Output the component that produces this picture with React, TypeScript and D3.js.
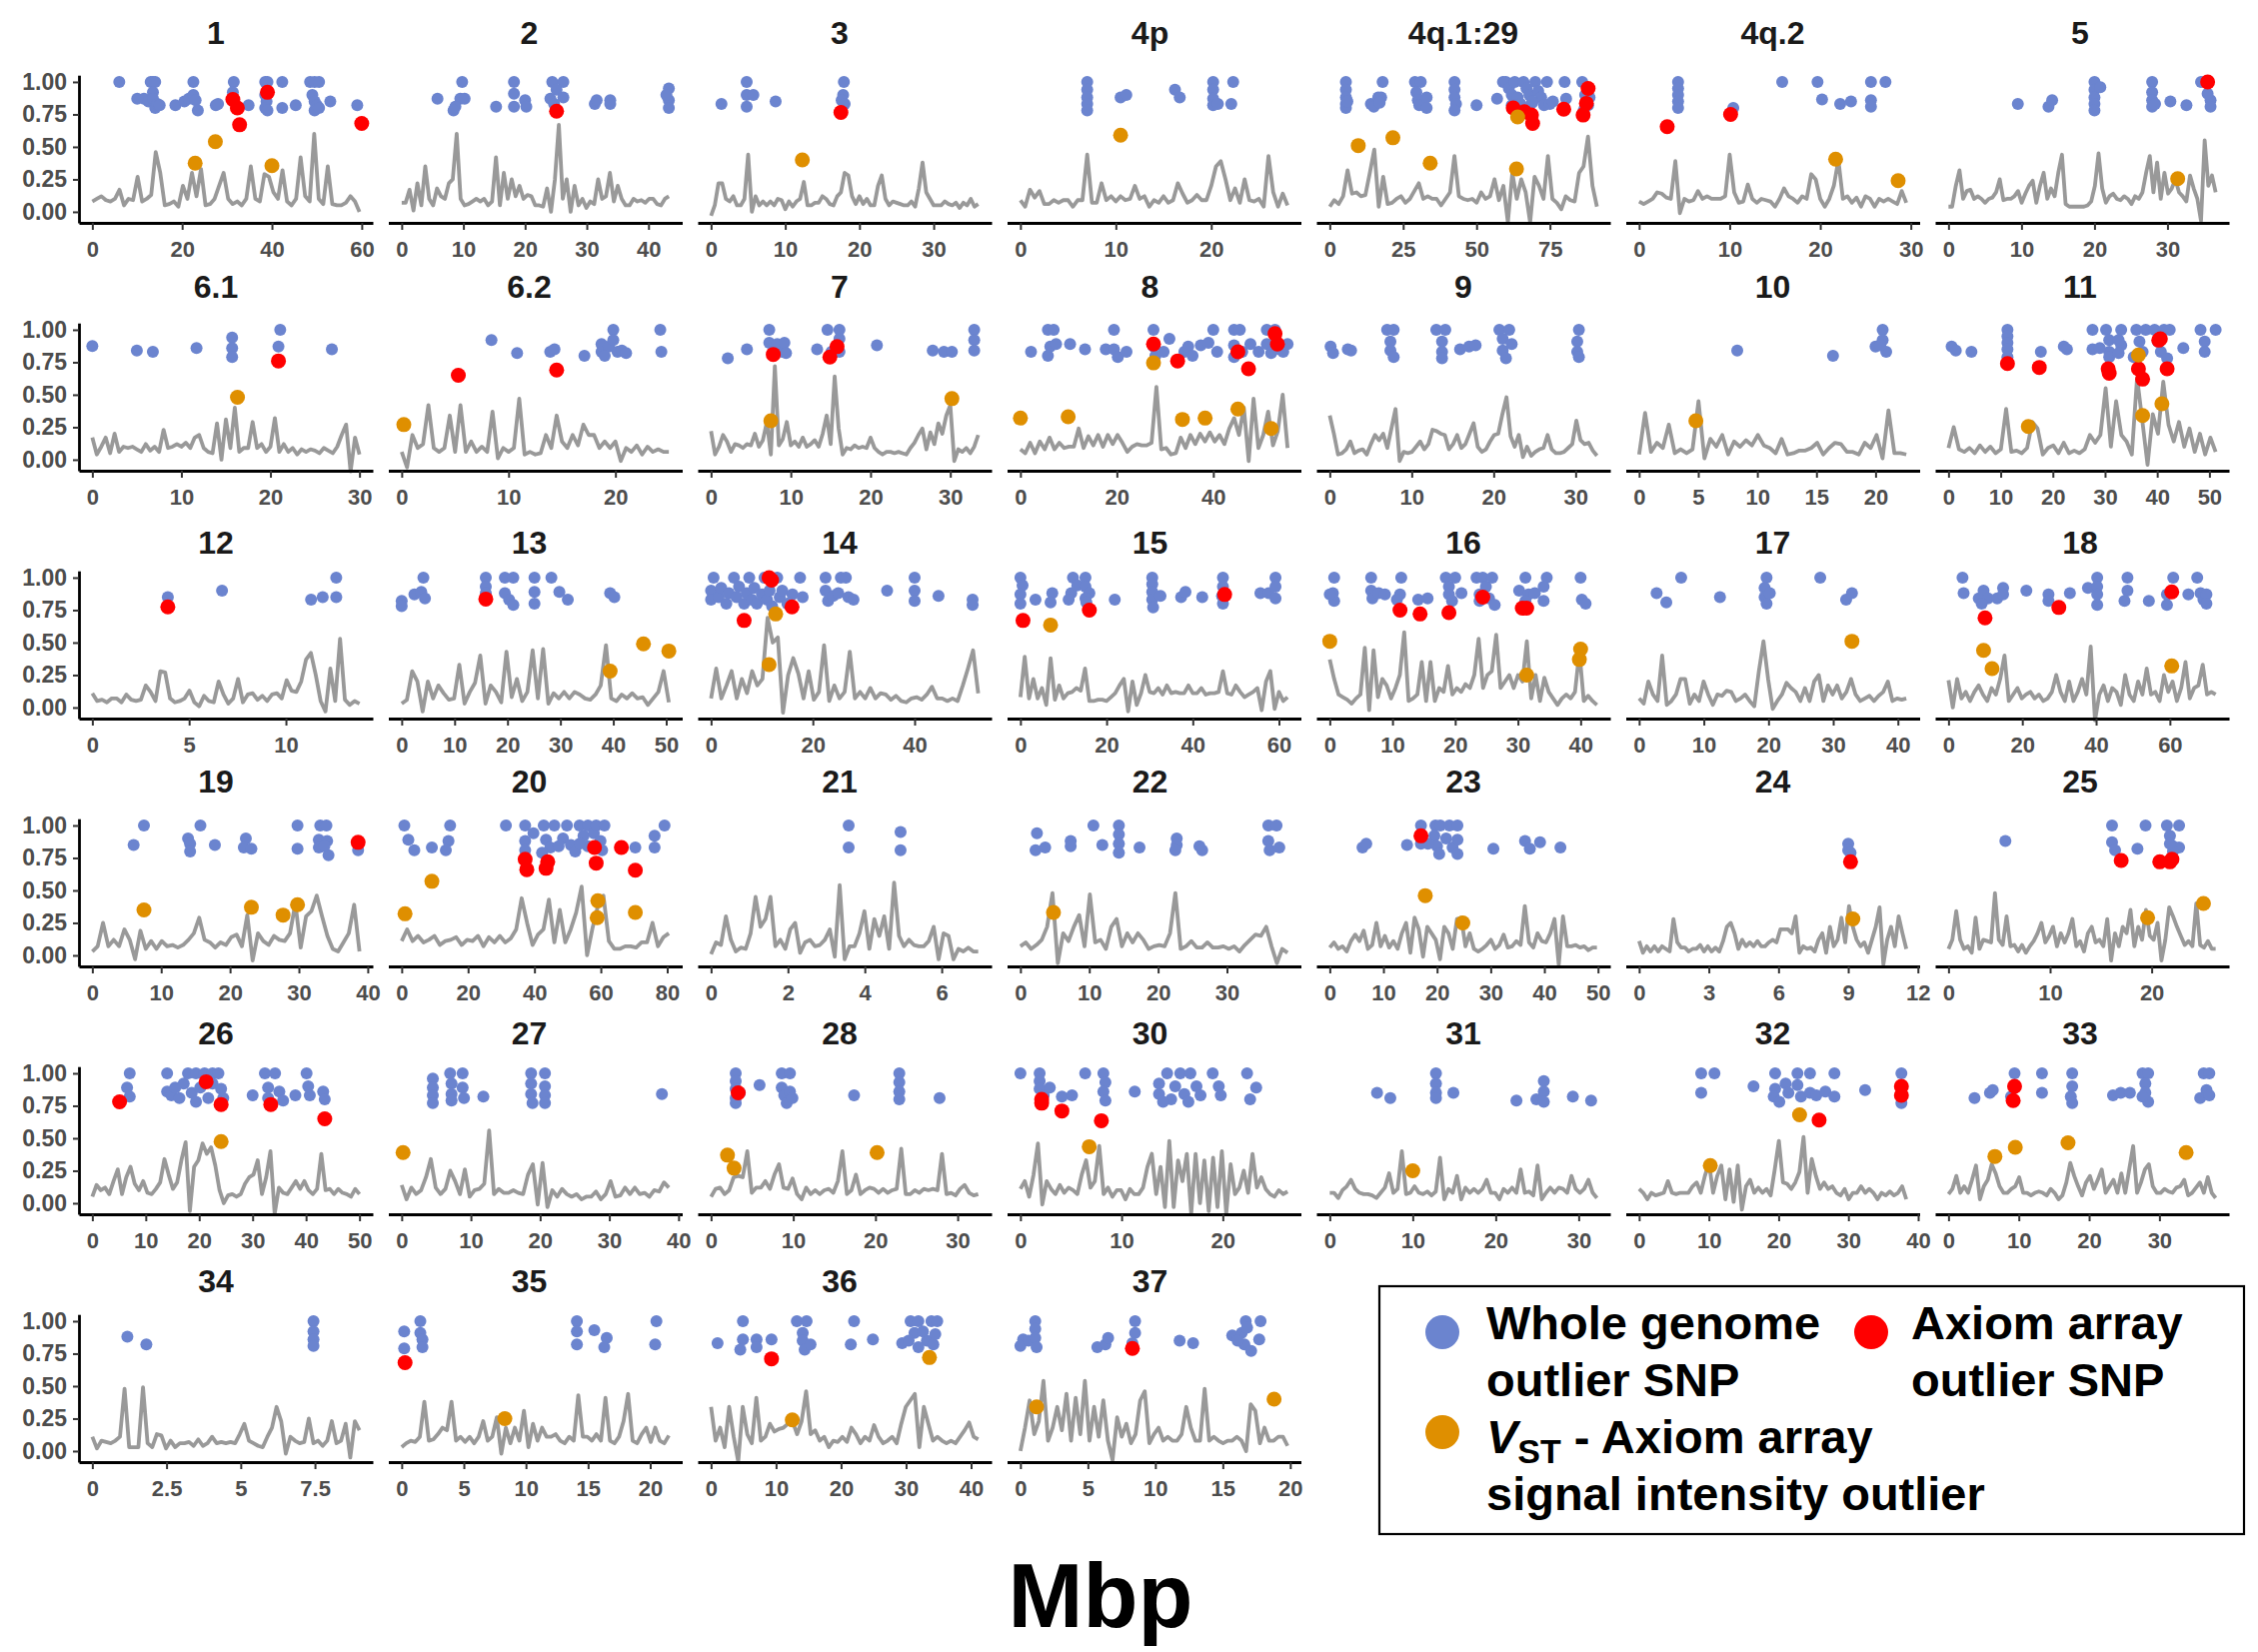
import React, { useRef, useEffect } from 'react';
import * as d3 from 'd3';

// facet order (7 per row)
const chromNames = ['1', '2', '3', '4p', '4q.1:29', '4q.2', '5', '6.1', '6.2', '7', '8', '9', '10', '11',
  '12', '13', '14', '15', '16', '17', '18', '19', '20', '21', '22', '23', '24', '25',
  '26', '27', '28', '30', '31', '32', '33', '34', '35', '36', '37'];

// chromosome length, Mbp
const chromLengths = [59.5, 43.3, 36, 28, 91, 29.5, 36.6, 30, 25, 33.5, 55.4, 32.6, 22.6, 51.2,
  13.8, 50.5, 52.5, 62, 42.6, 41.3, 72.4, 38.8, 80.5, 6.95, 38.8, 49.8, 11.5, 26.3,
  50, 38.6, 32.5, 26.4, 32.2, 38.3, 38, 9, 21.5, 41.1, 19.8];

const xTickLabels = [
  [0, 20, 40, 60], [0, 10, 20, 30, 40], [0, 10, 20, 30], [0, 10, 20], [0, 25, 50, 75], [0, 10, 20, 30], [0, 10, 20, 30],
  [0, 10, 20, 30], [0, 10, 20], [0, 10, 20, 30], [0, 20, 40], [0, 10, 20, 30], [0, 5, 10, 15, 20], [0, 10, 20, 30, 40, 50],
  [0, 5, 10], [0, 10, 20, 30, 40, 50], [0, 20, 40], [0, 20, 40, 60], [0, 10, 20, 30, 40], [0, 10, 20, 30, 40], [0, 20, 40, 60],
  [0, 10, 20, 30, 40], [0, 20, 40, 60, 80], [0, 2, 4, 6], [0, 10, 20, 30], [0, 10, 20, 30, 40, 50], [0, 3, 6, 9, 12], [0, 10, 20],
  [0, 10, 20, 30, 40, 50], [0, 10, 20, 30, 40], [0, 10, 20, 30], [0, 10, 20], [0, 10, 20, 30], [0, 10, 20, 30, 40], [0, 10, 20, 30],
  [0, 2.5, 5, 7.5], [0, 5, 10, 15, 20], [0, 10, 20, 30, 40], [0, 5, 10, 15, 20],
];

const yTickLabels = [0, 0.25, 0.5, 0.75, 1];

// windowed Fst along each chromosome (windows evenly spread from 0 to the chromosome end)
const fst_1 = [.08, .1, .12, .09, .08, .1, .17, .05, .1, .09, .27, .08, .1, .13, .46, .3, .05, .06, .08, .04, .2, .1, .3, .12, .33, .05, .06, .1, .2, .3, .1, .06, .08, .05, .1, .35, .1, .08, .29, .27, .15, .1, .32, .08, .05, .1, .42, .12, .08, .6, .1, .06, .35, .06, .05, .05, .07, .12, .08, 0];
const fst_2 = [.07, .07, .17, .01, .22, .05, .35, .1, .05, .18, .12, .1, .22, .25, .6, .1, .05, .06, .08, .1, .08, .1, .05, .08, .42, .05, .3, .1, .25, .12, .2, .1, .13, .12, .05, .05, .04, .18, 0, .25, .67, .1, .25, 0, .2, .05, .1, .03, .08, .06, .25, .1, .12, .3, .08, .2, .1, .05, .05, .1, .08, .09, .07, .1, .1, .06, .05, .1, .12];
const fst_3 = [-.03, .05, .22, .22, .1, .08, .12, .05, .05, .1, .44, 0, .12, .05, .08, .05, .08, .05, .1, .09, .02, .08, .04, .08, .1, .23, .05, .05, .07, .07, .12, .1, .06, .05, .12, .15, .3, .28, .12, .06, .12, .06, .1, .05, .05, .2, .28, .1, .05, .08, .07, .06, .05, .05, .08, .04, .18, .38, .15, .1, .05, .05, .05, .08, .06, .05, .07, .03, .07, .05, .1, .04, .06];
const fst_4p = [.09, .04, .17, .11, .16, .06, .06, .09, .07, .09, .09, .04, .09, .09, .44, .07, .07, .22, .09, .12, .08, .12, .09, .1, .2, .1, .12, .04, .09, .07, .12, .07, .09, .22, .14, .07, .09, .13, .09, .09, .2, .35, .39, .25, .09, .18, .07, .25, .09, .08, .1, .04, .43, .15, .04, .14, .05];
const fst_4q1 = [.04, .09, .06, .12, .32, .14, .15, .12, .13, .3, .48, .04, .27, .06, .07, .1, .12, .07, .1, .16, .22, .1, .12, .1, .1, .05, .1, .15, .43, .12, .1, .09, .1, .07, .15, .1, .12, .25, .09, .2, -.08, .3, .1, .25, .15, -.08, .27, .2, .1, .43, .1, .07, .02, .12, .09, .08, .3, .35, .58, .2, .04];
const fst_4q2 = [.08, .06, .08, .1, .15, .14, .11, .1, .39, -.01, .1, .08, .09, .16, .1, .12, .1, .1, .1, .12, .44, .15, .07, .08, .21, .1, .07, .1, .09, .08, .04, .1, .18, .12, .1, .07, .12, .1, .29, .25, .1, .04, .1, .2, .4, .1, .12, .07, .11, .04, .12, .1, .04, .1, .08, .1, .08, .06, .16, .07];
const fst_5 = [.04, .04, .2, .32, .1, .16, .17, .1, .12, .1, .07, .1, .11, .15, .25, .09, .1, .1, .12, .16, .07, .14, .2, .24, .07, .2, .3, .1, .18, .12, .3, .44, .06, .04, .04, .04, .04, .04, .05, .08, .2, .45, .18, .07, .12, .14, .1, .09, .12, .1, .06, .12, .1, .15, .3, .43, .15, .38, .1, .3, .14, .18, .25, .15, .12, .08, .28, .18, .1, -.07, .55, .2, .28, .15];
const fst_6_1 = [.17, .04, .1, .17, .05, .2, .06, .1, .09, .1, .08, .06, .12, .07, .1, .06, .23, .09, .1, .12, .1, .13, .09, .17, .19, .09, .06, .05, .28, 0, .31, .09, .4, .06, .09, .09, .29, .09, .12, .06, .1, .32, .06, .12, .06, .09, .04, .08, .06, .08, .07, .05, .09, .07, .05, .1, .19, .27, -.09, .17, .04];
const fst_6_2 = [.06, -.06, .19, .09, .12, .42, .09, .06, .09, .34, .06, .42, .06, .14, .06, .1, .06, .37, .01, .09, .06, .09, .47, .04, .06, .04, .05, .19, .09, .34, .14, .09, .19, .11, .27, .19, .19, .09, .14, .09, .14, -.01, .09, .06, .11, .04, .1, .06, .08, .06, .06];
const fst_7 = [.22, .04, .1, .19, .14, .06, .12, .11, .09, .12, .11, .2, .1, .15, .29, .04, .72, .11, .16, .29, .11, .14, .1, .17, .1, .12, .15, .1, .2, .34, .12, .64, .24, .04, .09, .08, .11, .09, .1, .09, .17, .09, .06, .04, .06, .06, .05, .06, .05, .04, .09, .13, .19, .24, .08, .21, .12, .28, .2, .34, .42, -.01, .08, .06, .09, .05, .1, .19];
const fst_8 = [.08, .05, .13, .05, .14, .08, .17, .08, .13, .09, .1, .1, .24, .09, .18, .11, .19, .1, .19, .12, .19, .13, .06, .1, .12, .11, .11, .13, .56, .08, .09, .04, .05, .17, .09, .19, .12, .2, .14, .21, .14, .19, .12, .24, .32, .19, .4, -.01, .47, .09, .19, .37, .11, .22, .5, .09];
const fst_9 = [.34, .2, .04, .05, .08, .14, .05, .07, .08, .04, .12, .19, .15, .2, .09, .24, .39, -.01, .06, .05, .06, .1, .14, .08, .12, .23, .22, .2, .19, .08, .12, .19, .09, .12, .2, .28, .1, .06, .08, .14, .19, .2, .35, .48, .18, .1, .19, .02, .1, .03, .06, .08, .09, .19, .08, .05, .05, .06, .09, .12, .3, .15, .12, .13, .07, .03];
const fst_10 = [.04, .36, .06, .13, .09, .27, .05, .08, .05, .08, .45, .01, .16, .1, .19, .04, .14, .1, .15, .11, .19, .11, .09, .05, .16, .04, .05, .07, .07, .09, .13, .04, .09, .13, .12, .06, .06, .04, .13, .09, .19, .01, .38, .05, .05, .04];
const fst_11 = [.09, .25, .08, .06, .09, .05, .11, .06, .1, .05, .08, .39, .06, .07, .05, .09, .29, .24, .04, .09, .11, .05, .13, .05, .07, .05, .08, .19, .13, .19, .55, .1, .45, .19, .14, .04, .63, .3, -.04, .35, .2, .6, .27, .14, .29, .1, .24, .06, .2, .04, .17, .06];
const fst_12 = [.11, .05, .06, .04, .07, .07, .04, .1, .06, .05, .06, .17, .12, .05, .28, .27, .07, .04, .05, .07, .13, .04, .01, .09, .05, .04, .2, .1, .03, .07, .22, .04, .1, .11, .06, .09, .05, .1, .11, .07, .21, .13, .12, .2, .37, .42, .25, .05, -.03, .3, .05, .53, .06, .02, .05, .03];
const fst_13 = [.03, .06, .28, .2, -.03, .2, .07, .17, .11, .06, .07, .33, .03, .12, .19, .4, .03, .17, .12, .04, .43, .08, .22, .05, .12, .44, .07, .45, .03, .11, .07, .12, .07, .12, .1, .07, .06, .1, .17, .48, .07, .05, .1, .07, .11, .07, .08, .02, .07, .12, .28, .04];
const fst_14 = [.07, .3, .07, .17, .28, .07, .22, .11, .28, .17, .22, .69, .5, .54, -.04, .25, .38, .26, .07, .28, .06, .12, .48, .05, .17, .07, .12, .43, .07, .12, .07, .15, .07, .11, .1, .06, .09, .05, .04, .07, .08, .06, .1, .16, .07, .07, .05, .07, .05, .17, .3, .44, .11];
const fst_15 = [.08, .39, .07, .22, .07, .15, .02, .38, .06, .17, .07, .11, .12, .15, .13, .3, .05, .05, .06, .06, .05, .08, .11, .17, .22, -.03, .2, .02, .11, .25, .12, .11, .15, .1, .17, .11, .12, .11, .11, .17, .11, .11, .15, .1, .11, .11, .12, .28, .11, .1, .17, .12, .08, .1, .12, .15, -.02, .2, .28, -.01, .12, .05, .08];
const fst_16 = [.37, .22, .1, .08, .06, .03, .07, .1, .46, -.02, .44, .08, .22, .17, .07, .15, .25, .58, .05, .07, .1, .35, .05, .35, .05, .15, .12, .32, .1, .15, .12, .18, .15, .25, .53, .15, .25, .28, .56, .15, .2, .25, .15, .25, .2, .51, .07, .25, .05, .23, .12, .07, .02, .07, .1, .07, .12, .43, .05, .09, .05, .02];
const fst_17 = [.07, .03, .2, .1, .05, .4, .02, .05, .1, .22, .22, .03, .1, .05, .2, .1, .02, .1, .09, .13, .12, .05, .07, .1, .05, .01, .28, .51, .22, -.01, .05, .1, .19, .15, .12, .05, .15, .05, .2, .25, .05, .17, .1, .17, .07, .12, .22, .1, .05, .07, .09, .05, .09, .12, .2, .05, .07, .06, .07];
const fst_18 = [.21, 0, .22, .07, .12, .05, .12, .17, .1, .05, .15, .1, .22, .4, .05, .1, .15, .07, .1, .12, .07, .1, .05, .07, .12, .25, .12, .05, .2, .05, .12, .22, .1, .47, -.1, .1, .17, .05, .15, .12, .02, .25, .1, .05, .2, .1, .3, .1, .12, .05, .25, .12, .2, .05, .15, .35, .07, .15, .17, .33, .1, .12, .1];
const fst_19 = [.03, .07, .25, .07, .12, .07, .2, .12, -.03, .19, .05, .11, .05, .11, .07, .08, .06, .08, .12, .17, .29, .12, .1, .06, .1, .08, .14, .16, .07, .31, -.04, .17, .11, .08, .15, .12, .11, .17, .4, .06, .3, .34, .46, .3, .15, .05, .03, .1, .17, .39, .03];
const fst_20 = [.11, .2, .11, .15, .1, .12, .15, .08, .11, .12, .14, .08, .12, .11, .15, .07, .14, .1, .15, .1, .13, .2, .44, .25, .08, .16, .2, .43, .1, .35, .1, .2, .33, .53, 0, .21, .38, .46, .11, .05, .05, .07, .07, .06, .1, .1, .25, .07, .14, .17];
const fst_21 = [.01, .1, .08, .3, .12, .03, .06, .05, .17, .45, .22, .28, .45, .07, .12, .05, .2, .25, .02, .1, .12, .07, .08, .12, .2, -.01, .54, -.03, .07, .07, .17, .34, .05, .28, .15, .3, .05, .56, .15, .07, .12, .08, .07, .07, .11, .22, -.03, .17, .15, -.03, .05, .03, .06, .03, .03];
const fst_22 = [.07, .1, .05, .08, .12, .22, .48, -.06, .17, .11, .22, .31, .07, .47, .1, .12, .05, .22, .28, .07, .17, .1, .17, .12, .05, .07, .08, .07, .17, .48, .05, .07, .11, .06, .06, .1, .06, .06, .07, .05, .07, .03, .08, .12, .16, .15, .22, .07, -.06, .05, .02];
const fst_23 = [.06, .1, .05, .07, .03, .11, .16, .11, .19, .05, .08, .25, .07, .15, .06, .11, .05, .17, .25, .02, .29, .2, -.01, .22, .17, .12, -.03, .22, .17, .05, .28, .29, .07, .17, .05, .03, .05, .08, .12, .05, .08, .16, .06, .07, .11, .08, .38, .1, .06, .17, .11, .1, .17, .28, -.07, .3, .07, .07, .08, .06, .07, .04, .06, .06];
const fst_24 = [.11, .02, .07, .03, .07, .03, .07, .05, .03, .28, .1, .06, .06, .03, .05, .05, .08, .03, .07, .03, .06, .03, .11, .22, .25, .17, .05, .12, .07, .1, .07, .11, .07, .07, .1, .12, .1, .2, .2, .2, .17, .3, .02, .07, .05, .06, .03, .12, .17, .02, .22, .07, .12, .29, .1, .38, .22, .12, .07, .1, .02, .12, .22, .37, -.07, .12, .22, .07, .3, .17, .05];
const fst_25 = [.05, .12, .34, .12, .05, .07, .02, .29, .05, .12, .11, .1, .48, .12, .08, .3, .07, .08, .03, .08, .02, .07, .11, .17, .25, .1, .15, .22, .07, .17, .1, .17, .28, .07, .11, .03, .17, .22, .1, .12, .07, .28, -.04, .17, .07, .22, .17, .35, .07, .22, .12, .35, .15, .12, .25, -.04, .12, .37, .3, .22, .15, .08, .11, .07, .4, .08, .06, .11, .05, .05];
const fst_26 = [.05, .14, .1, .12, .07, .17, .26, .07, .2, .28, .15, .1, .17, .08, .07, .11, .16, .34, .22, .11, .16, .33, .47, -.06, .28, .33, .46, .38, .43, .29, .1, 0, .06, .07, .05, .07, .15, .2, .22, .33, .07, .2, .4, -.08, .12, .08, .07, .12, .17, .11, .17, .1, .07, .11, .38, .1, .11, .07, .11, .08, .07, .05, .11, .07];
const fst_27 = [.14, .03, .12, .07, .1, .2, .34, .12, .07, .11, .25, .17, .07, .26, .05, .1, .11, .15, .56, .07, .11, .08, .08, .1, .08, .07, .22, .3, -.01, .31, -.03, .1, .05, .11, .07, .05, .07, .03, .05, .05, .09, .03, .07, .17, .05, .06, .12, .07, .12, .07, .08, .05, .1, .09, .16, .12];
const fst_28 = [.05, .11, .12, .07, .1, .2, .21, .2, .4, .08, .12, .12, .17, .11, .22, .3, .12, .11, .19, .07, .03, .12, .07, .1, .07, .1, .11, .08, .17, .4, .07, .1, .22, .07, .1, .12, .11, .08, .11, .08, .1, .11, .42, .07, .07, .1, .08, .11, .1, .11, .1, .38, .07, .08, .06, .11, .14, .08, .06, .07];
const fst_30 = [.11, .17, .05, .22, .46, -.01, .17, .11, .07, .14, .08, .12, .1, .07, .22, .33, .12, .17, .44, .07, .12, .05, .1, .1, .03, .11, .07, .07, .12, .28, .38, .07, .28, -.03, .48, -.03, .33, .17, .38, -.08, .38, 0, .33, -.06, .35, -.03, .4, -.08, .3, .07, .12, .25, .08, .38, .12, .2, .11, .07, .05, .1, .07, .09];
const fst_31 = [.08, .08, .04, .1, .13, .18, .11, .08, .07, .07, .06, .04, .08, .12, .23, .08, .11, .4, .07, .08, .13, .08, .07, .09, .06, .09, .35, .03, .11, .08, .21, .03, .12, .08, .11, .08, .11, .18, .08, .08, .03, .11, .08, .12, .08, .26, .08, .09, .06, .29, .03, .08, .12, .08, .12, .11, .08, .21, .11, .08, .11, .18, .08, .04];
const fst_32 = [.11, .08, .03, .08, .06, .07, .08, .17, .08, .07, .08, .08, .08, .13, .16, .08, .21, .31, .08, .21, .29, .03, .26, .01, .29, -.05, .13, .18, .08, .12, .08, .11, .06, .26, .48, .16, .15, .11, .16, .24, .51, .08, .34, .21, .11, .16, .11, .13, .08, .06, .11, .03, .08, .08, .13, .08, .11, .08, .03, .08, .06, .09, .06, .08, .13, .03];
const fst_33 = [.07, .11, .21, .08, .13, .08, .18, .29, .03, .13, .18, .3, .23, .13, .08, .08, .11, .13, .2, .08, .08, .06, .08, .09, .08, .06, .11, .08, .03, .06, .16, .31, .21, .13, .06, .16, .21, .11, .18, .26, .08, .13, .18, .08, .23, .08, .26, .44, .08, .16, .26, .3, .13, .08, .08, .11, .09, .08, .12, .13, .18, .06, .08, .12, .16, .08, .2, .08, .04];
const fst_34 = [.11, .02, .08, .07, .06, .08, .11, .48, .03, .03, .03, .49, .06, .03, .13, .12, .02, .08, .03, .06, .06, .07, .04, .09, .04, .06, .11, .06, .07, .06, .07, .06, .13, .21, .08, .06, .04, .03, .11, .18, .34, .23, -.02, .11, .08, .06, .07, .25, .06, .08, .04, .08, .23, .06, .08, .21, -.05, .23, .16];
const fst_35 = [.03, .06, .08, .07, .11, .38, .08, .09, .13, .18, .16, .38, .08, .11, .07, .11, .06, .11, .23, .08, .11, .26, -.02, .18, .06, .18, .08, .31, .03, .21, .08, .18, .11, .11, .13, .08, .06, .11, .08, .43, .11, .11, .08, .13, .08, .41, .08, .06, .11, .23, .44, .08, .06, .13, .18, .07, .18, .08, .06, .12];
const fst_36 = [.34, .08, .18, .03, .34, .11, -.08, .34, .13, .06, .41, .08, .11, .21, .15, .17, .18, .21, .23, .13, .23, .46, .13, .16, .08, .11, .03, .08, .07, .11, .07, .18, .13, .06, .11, .08, .2, .11, .06, .08, .11, .06, .21, .34, .39, .44, .03, .34, .21, .08, .11, .08, .06, .08, .06, .11, .16, .22, .11, .09];
const fst_37 = [0, .18, .39, .13, .23, .54, .08, .18, .34, .16, .44, .08, .41, .13, .54, .08, .34, .11, .39, .08, -.07, .26, .11, .21, .06, .13, .39, .46, .06, .13, .18, .08, .11, .08, .08, .13, .34, .18, .08, .08, .48, .08, .11, .08, .06, .08, .08, .11, .08, 0, .36, .31, .06, .18, .08, .08, .11, .11, .04];

// whole genome outlier SNPs: [Mbp, value]
const wgs_1 = [[6, 1], [10, .87], [11.5, .87], [12.5, .85], [13, 1], [13.5, 1], [14, 1], [13.5, .92], [13.5, .87], [14, .8], [14.5, .83], [15, .82], [18.5, .82], [20.5, .85], [21.5, .87], [22.5, 1], [22.5, .9], [23, .86], [23.5, .78], [27.5, .82], [28, .83], [31.5, 1], [31.3, .92], [31.5, .86], [34.8, .82], [38.5, 1], [39, 1], [38.5, .9], [38.8, .85], [38.5, .8], [39, .78], [42.3, 1], [42.3, .8], [45.3, .82], [48.5, 1], [49.5, 1], [50.5, 1], [49, .9], [49.5, .85], [50, .82], [49.5, .78], [50.5, .8], [53, .85], [59, .82]];
const wgs_2 = [[5.8, .87], [9.8, 1], [9.5, .87], [8.7, .81], [8.4, .78], [10.2, .87], [15.3, .81], [18.2, 1], [18.2, .91], [18.2, .81], [20, .86], [20.2, .81], [24.4, 1], [26.2, 1], [24.1, .87], [25.1, .94], [26.2, .88], [24.7, .83], [31.3, .83], [31.6, .86], [33.8, .86], [33.8, .83], [43.3, .95], [43.3, .86], [43.3, .8], [42.9, .9]];
const wgs_3 = [[1.4, .83], [4.8, 1], [4.8, .9], [4.8, .81], [5.7, .9], [8.7, .85], [17.9, 1], [17.8, .9], [17.6, .86], [18, .83]];
const wgs_4p = [[7, 1], [7, .94], [7, .88], [7, .83], [7, .78], [10.5, .88], [11.1, .9], [16.2, .94], [16.7, .88], [20.2, 1], [20.2, .94], [20.2, .87], [20.2, .82], [20.7, .83], [22.3, 1], [22.1, .83]];
const wgs_4q1 = [[5.5, 1], [5.5, .94], [5.5, .88], [5.5, .83], [5.5, .8], [6, .85], [14, .83], [15, .81], [16.5, .88], [18, 1], [17.5, .88], [17, .84], [29, 1], [31, 1], [29.5, .92], [30, .86], [30.5, .82], [33, .88], [33, .8], [42.5, 1], [42.5, .94], [42.5, .88], [43, .83], [42.5, .78], [50, .82], [57, .87], [59, 1], [60, 1], [61, .95], [62, .9], [63, 1], [64, .88], [65, .83], [66, 1], [67, .95], [68, .9], [69, .84], [70, 1], [71, .93], [72, .88], [73, .82], [74, 1], [62, .82], [66, .8], [69, .85], [75, .83], [76, .85], [80, 1], [80.5, .87], [86, 1], [87, .9], [87.5, .85], [88, .82], [86.5, .78], [88.5, .88]];
const wgs_4q2 = [[4.3, 1], [4.3, .95], [4.3, .9], [4.3, .85], [4.3, .8], [10.4, .8], [15.8, 1], [19.7, 1], [20.2, .865], [22.2, .83], [23.4, .85], [25.6, 1], [27.2, 1], [25.6, .86], [25.6, .81]];
const wgs_5 = [[9.5, .83], [13.7, .81], [14.2, .86], [20, 1], [20, .94], [20, .88], [20, .83], [20, .78], [20.8, .96], [27.9, 1], [27.9, .92], [27.9, .86], [27.9, .81], [28.3, .83], [30.4, .85], [32.6, .82], [34.6, 1], [35.9, .86], [35.9, .81], [35.5, .91]];
const wgs_6_1 = [[0, .875], [5, .84], [6.8, .83], [11.7, .86], [15.7, .94], [15.7, .86], [15.7, .79], [21.1, 1], [20.9, .87], [26.9, .85]];
const wgs_6_2 = [[8.4, .92], [10.8, .82], [13.9, .83], [14.3, .85], [17.1, .8], [18.7, .89], [18.7, .83], [19.4, .87], [19.8, 1], [19.8, .92], [20.2, .83], [20.6, .84], [24.2, 1], [24.3, .83], [19, .8], [21, .82]];
const wgs_7 = [[2.1, .78], [4.5, .85], [7.3, 1], [7.3, .9], [7.8, .83], [8.3, .89], [8.9, .83], [9.2, .9], [9.4, .82], [13.3, .85], [14.6, 1], [16.1, 1], [16.1, .93], [16.1, .83], [15.1, .83], [20.8, .88], [27.8, .84], [29.2, .83], [30.2, .83], [33, 1], [33, .92], [33, .84]];
const wgs_8 = [[2.2, .83], [5.7, 1], [6.9, 1], [5.7, .8], [6.2, .87], [7.4, .89], [10.3, .89], [13.4, .85], [17.7, .85], [19.4, 1], [19.4, .85], [20.2, .79], [22, .83], [27.6, 1], [27.6, .87], [28, .8], [29.7, .83], [30.9, .93], [34, .83], [34.8, .87], [35.7, .8], [37.4, .88], [39, .9], [40, 1], [40.8, .83], [44.3, 1], [45.5, 1], [44.3, .88], [44.3, .79], [46, .83], [47.7, .89], [49.4, .83], [51.1, 1], [52.8, 1], [51.1, .89], [52, .82], [53.7, .85], [54.5, .83], [55.4, .89]];
const wgs_9 = [[0.1, .87], [0.4, .82], [2.2, .85], [2.6, .84], [7, 1], [7.8, 1], [7.4, .91], [7.4, .84], [7.8, .79], [13, 1], [14.1, 1], [13.7, .91], [13.7, .83], [13.7, .78], [15.9, .85], [17, .87], [17.8, .88], [20.7, 1], [21.9, 1], [21.1, .93], [21.1, .84], [21.5, .78], [22.2, .89], [30.4, 1], [30.2, .91], [30.2, .83], [30.4, .79]];
const wgs_10 = [[8.3, .84], [16.4, .8], [20, .87], [20.6, 1], [20.6, .92], [20.9, .83], [20.4, .88]];
const wgs_11 = [[0.6, .87], [1.4, .84], [4.4, .83], [11.3, 1], [11.3, .95], [11.3, .9], [11.3, .85], [11.3, .79], [17.7, .83], [22.1, .87], [22.7, .85], [27.6, 1], [27.6, .85], [30.2, 1], [30.8, .92], [30.8, .83], [30.8, .79], [33.1, 1], [33.1, .88], [32.6, .82], [36, 1], [37.8, 1], [36.6, .91], [37.2, .83], [35.5, .79], [39.5, 1], [41.3, 1], [42.4, 1], [40.1, .91], [40.7, .83], [41.9, .78], [45, .86], [48.3, 1], [51.2, 1], [49.1, .91], [49.1, .83], [32.6, .92], [29, .86]];
const wgs_12 = [[3.9, .85], [6.7, .9], [11.3, .83], [11.9, .85], [12.6, 1], [12.6, .85]];
const wgs_13 = [[0, .82], [0, .78], [2.4, .87], [3.7, .89], [4.1, 1], [4.4, .84], [15.9, 1], [15.9, .93], [15.9, .88], [19.5, 1], [21.1, 1], [19.5, .88], [20.3, .83], [21.1, .79], [25.1, 1], [25.1, .89], [25.1, .8], [28.3, 1], [29.8, .89], [31.4, .83], [39.4, .88], [40.2, .85]];
const wgs_14 = [[0, .9], [0, .83], [0.5, 1], [1.5, .85], [2, .92], [3, .8], [3.5, .88], [4.5, 1], [5, .85], [5.5, .93], [6.5, .8], [7, .88], [7.5, 1], [8, .83], [8.5, .92], [9, .8], [10, .87], [10.5, 1], [11, .83], [11.5, .9], [12, .78], [13, 1], [13.5, .85], [14, .9], [15, .8], [16, .87], [17.5, 1], [18, .85], [22.5, 1], [22.5, .9], [23, .82], [24, .86], [25, .88], [25.5, 1], [26.5, 1], [27, .85], [28, .83], [34.6, .9], [40, 1], [40, .9], [40, .82], [44.7, .86], [51.4, .83], [51.4, .79]];
const wgs_15 = [[0, 1], [0.5, .94], [0, .87], [0, .8], [3.5, .83], [7.4, .88], [7, .81], [12.2, 1], [11.8, .88], [11.2, .83], [13.2, .94], [15.1, 1], [15.1, .93], [16, .88], [15.1, .84], [15.3, .81], [21.9, .83], [30.6, 1], [30.6, .95], [30.6, .89], [30.6, .83], [30.8, .77], [32.5, .86], [37.3, .85], [38.3, .89], [42.2, .85], [47, 1], [47, .93], [46.8, .86], [47, .8], [55.7, .88], [57.6, .88], [59.2, 1], [59.2, .93], [59.2, .84]];
const wgs_16 = [[0.7, 1], [0.5, .88], [0.7, .82], [0, .87], [6.6, 1], [6.6, .9], [6.8, .84], [7.8, .88], [8.8, .87], [11.4, 1], [11.2, .87], [10.7, .83], [14.1, .83], [15.6, .84], [18.5, 1], [20, 1], [19, .93], [19, .87], [19.5, .82], [21, .88], [23.4, 1], [24.4, 1], [25.9, 1], [24.9, .93], [23.9, .87], [25.4, .84], [26.3, .79], [23.9, .82], [31.2, 1], [30.2, .9], [31.7, .87], [31.2, .82], [32.7, .88], [34.6, 1], [34.1, .93], [34.1, .82], [40, 1], [40.2, .83], [40.8, .8]];
const wgs_17 = [[2.7, .88], [4.2, .81], [6.5, 1], [12.5, .85], [19.7, 1], [19.4, .92], [19.4, .85], [19.7, .8], [20.2, .88], [28, 1], [32, .83], [32.9, .88]];
const wgs_18 = [[3.8, 1], [4.1, .88], [8.2, .84], [9.5, .9], [10.7, .84], [9, .8], [13.2, .84], [14.8, .92], [14.8, .87], [21.1, .9], [27.1, .87], [27.1, .82], [32.9, .88], [37.8, .92], [40.3, 1], [40.3, .93], [40.3, .87], [40.3, .79], [48.5, 1], [48.5, .9], [47.7, .82], [54.3, .82], [60.9, 1], [59.2, .87], [59.2, .79], [65, .87], [67.4, 1], [68.3, .88], [69.1, .83], [69.9, .87], [69.9, .8]];
const wgs_19 = [[6, .85], [7.5, 1], [13.9, .9], [14.2, .86], [14.2, .8], [15.7, 1], [17.8, .85], [22.3, .9], [22, .83], [23.1, .82], [29.8, 1], [29.8, .82], [33.1, 1], [34, 1], [32.9, .89], [32.9, .83], [34.1, .88], [34.3, .77], [33.7, .84], [38.6, .81]];
const wgs_20 = [[0.8, 1], [2, .89], [3.8, .81], [9.1, .83], [14.6, 1], [14.1, .88], [13.3, .81], [31.4, 1], [37.2, 1], [37.2, .88], [37.2, .81], [39.7, .94], [42.8, 1], [43.5, .89], [44.8, .83], [46, 1], [48.6, .9], [49.8, 1], [51, .85], [52.3, .8], [53.6, 1], [54.8, .92], [56.1, 1], [56.1, .84], [57.9, .94], [58.6, 1], [59.9, .88], [61.1, 1], [60.4, .81], [42.3, .79], [47.3, .84], [53.6, .86], [70.4, .83], [76.2, .92], [76.2, .83], [79.2, 1]];
const wgs_21 = [[3.58, 1], [3.58, .83], [4.93, .95], [4.93, .81]];
const wgs_22 = [[2.4, .94], [2.2, .81], [3.6, .83], [7.3, .88], [7.3, .84], [10.6, 1], [11.9, .85], [14.3, 1], [14.3, .93], [14.3, .86], [14.3, .79], [17.3, .83], [22.7, .9], [22.7, .85], [22.5, .81], [26, .84], [26.4, .81], [36, 1], [37.2, 1], [36, .88], [36.2, .81], [37.6, .83]];
const wgs_23 = [[6.1, .83], [6.8, .86], [14.4, .85], [17, 1], [17, .86], [19.7, 1], [20.6, 1], [22.3, 1], [23.8, 1], [19.5, .92], [20, .84], [20.4, .78], [21.7, .9], [22.9, .83], [23.8, .89], [23.8, .78], [18.3, .86], [30.5, .82], [36.4, .88], [37.3, .82], [39.2, .87], [43, .83]];
const wgs_24 = [[9, .86], [9, .81], [9.1, .79]];
const wgs_25 = [[5.6, .88], [16.1, 1], [16.1, .87], [16.4, .81], [18.6, .82], [19.4, 1], [21.5, 1], [22.7, 1], [21.8, .92], [22.1, .84], [22.7, .83], [22.1, .8], [21.8, .86]];
const wgs_26 = [[7, 1], [6.5, .89], [7, .82], [14, 1], [14, .86], [14.8, .83], [17.9, 1], [19.4, 1], [21, 1], [22.5, 1], [23.6, 1], [17.1, .92], [18.6, .85], [20.2, .89], [21.7, .81], [22.5, .92], [24.1, .88], [24.5, .81], [16.3, .81], [15.5, .89], [19.4, .78], [30, .83], [32.3, 1], [34.2, 1], [32.9, .89], [32.9, .81], [35, .86], [35.7, .79], [38, .83], [40.1, 1], [40.4, .9], [40.7, .83], [43.2, .86], [43.5, .8]];
const wgs_27 = [[4.5, .96], [4.5, .89], [4.5, .83], [4.5, .77], [7, 1], [7.2, .92], [7.2, .84], [7.2, .79], [8.8, 1], [8.8, .89], [9, .81], [11.8, .82], [18.7, 1], [18.7, .92], [18.7, .84], [18.9, .77], [20.7, 1], [20.7, .9], [20.7, .83], [20.7, .77], [37.6, .84]];
const wgs_28 = [[3, 1], [3, .94], [3, .88], [3, .81], [3, .77], [3.5, .85], [5.9, .91], [8.6, 1], [9.6, 1], [8.6, .89], [8.9, .83], [9.2, .77], [9.6, .86], [9.9, .81], [17.4, .83], [22.9, 1], [22.9, .93], [22.9, .86], [22.9, .8], [27.8, .81]];
const wgs_30 = [[0, 1], [1.9, 1], [1.9, .94], [1.9, .88], [2.3, .83], [2.9, .89], [4.1, .82], [5.1, .83], [6.4, 1], [8.2, 1], [8.4, .93], [8.2, .86], [8.4, .79], [11.3, .86], [13.7, .92], [13.7, .84], [14.5, 1], [14.9, .8], [15.3, .9], [15.8, 1], [16.2, .84], [16.8, 1], [17.4, .9], [17.8, .83], [19, 1], [19.6, .9], [19.8, .83], [22.4, 1], [22.7, .8], [23.3, .89], [14.1, .78], [16.6, .78]];
const wgs_31 = [[5.7, .85], [7.3, .81], [12.8, 1], [12.8, .92], [12.8, .85], [12.8, .81], [14.9, .85], [22.5, .79], [24.9, .8], [25.8, .94], [25.8, .86], [25.8, .78], [29.3, .82], [31.5, .79]];
const wgs_32 = [[8.9, 1], [8.9, .85], [10.8, 1], [16.4, .9], [19.5, 1], [19.5, .88], [19.3, .82], [20.1, .78], [21, .92], [21.4, .85], [22.7, 1], [24.5, 1], [22.7, .91], [23.2, .82], [24.5, .85], [25.4, .83], [26.7, .86], [28, 1], [28, .82], [32.4, .87], [37.6, 1], [37.6, .77]];
const wgs_33 = [[3.7, .81], [5.9, .85], [6.3, .87], [9.4, 1], [9.4, .91], [8.9, .82], [13.3, 1], [13.3, .85], [17.6, 1], [17.6, .9], [17.4, .82], [17.6, .77], [23.4, .83], [24.5, .85], [25.8, .85], [27.6, 1], [28.4, 1], [28, .92], [28, .85], [28.4, .78], [27.6, .82], [36.3, 1], [37.1, 1], [36.7, .87], [35.8, .81], [37.1, .83]];
const wgs_34 = [[1.18, .88], [1.82, .82], [7.45, 1], [7.45, .92], [7.45, .86], [7.45, .81]];
const wgs_35 = [[0.2, .92], [0.2, .79], [1.5, 1], [1.5, .91], [1.67, .86], [1.67, .8], [14.1, 1], [14.1, .92], [14.1, .82], [15.5, .93], [16.5, .87], [16.3, .8], [20.5, 1], [20.4, .82]];
const wgs_36 = [[1, .83], [4.9, 1], [4.9, .86], [4.5, .78], [7, .86], [7, .8], [9.3, .86], [13.2, 1], [14.7, 1], [14.1, .91], [14.1, .85], [14.4, .78], [15.3, .82], [22, 1], [21.5, .82], [24.9, .86], [29.4, .83], [30.7, 1], [31.9, 1], [33.9, 1], [34.8, 1], [31.3, .91], [33.2, .85], [31.9, .8], [34.2, .82], [32.6, .92], [30.4, .85], [34.5, .9]];
const wgs_37 = [[0.2, .86], [0, .81], [0.6, .85], [1.1, 1], [1.1, .94], [1.1, .87], [1.2, .8], [5.7, .8], [6.3, .82], [6.5, .87], [8.5, 1], [8.5, .91], [8.3, .83], [11.8, .85], [12.8, .83], [15.7, .89], [16.4, .91], [16.7, 1], [17.8, 1], [16.6, .82], [17.1, .77], [17.7, .86], [16.1, .85], [16.8, .95]];

// Axiom array outlier SNPs: [Mbp, value]
const axiom_1 = [[31.3, .865], [32.3, .8], [32.8, .67], [39, .92], [60, .68]];
const axiom_2 = [[25.1, .775]];
const axiom_3 = [[17.5, .765]];
const axiom_4q1 = [[62.5, .8], [66.3, .77], [68.7, .745], [69.1, .68], [79.7, .79], [86.3, .745], [87.4, .835], [88, .95]];
const axiom_4q2 = [[3.1, .655], [10.1, .75]];
const axiom_5 = [[35.5, 1]];
const axiom_6_1 = [[20.9, .76]];
const axiom_6_2 = [[5.3, .65], [14.5, .69]];
const axiom_7 = [[7.8, .81], [14.9, .79], [15.8, .87]];
const axiom_8 = [[27.6, .89], [32.6, .76], [45.1, .83], [47.3, .7], [52.8, .97], [53.3, .89]];
const axiom_11 = [[11.3, .74], [17.4, .71], [30.6, .7], [30.8, .665], [36.4, .7], [37.2, .62], [40.3, .92], [40.6, .93], [41.9, .7]];
const axiom_12 = [[3.9, .775]];
const axiom_13 = [[15.9, .835]];
const axiom_14 = [[6.5, .67], [11.9, .98], [11.4, 1], [15.9, .775]];
const axiom_15 = [[0.6, .67], [16, .75], [47.4, .87]];
const axiom_16 = [[11.2, .75], [14.4, .72], [19, .73], [24.4, .85], [30.7, .765], [31.4, .765]];
const axiom_18 = [[9.9, .69], [29.9, .77], [60.5, .89]];
const axiom_19 = [[38.6, .87]];
const axiom_20 = [[37.2, .74], [37.7, .66], [44, .72], [43.5, .67], [58.1, .83], [58.6, .71], [66.2, .83], [70.4, .655]];
const axiom_23 = [[17, .92]];
const axiom_24 = [[9.1, .72]];
const axiom_25 = [[17, .73], [20.8, .72], [21.8, .72], [22, .74]];
const axiom_26 = [[5.1, .78], [21.3, .935], [24.1, .76], [33.4, .76], [43.5, .65]];
const axiom_28 = [[3.3, .85]];
const axiom_30 = [[2.1, .77], [2.1, .8], [4.1, .71], [8, .635]];
const axiom_32 = [[37.6, .9], [37.6, .83], [25.8, .64]];
const axiom_33 = [[9.4, .9], [9.2, .79]];
const axiom_35 = [[0.27, .68]];
const axiom_36 = [[9.3, .71]];
const axiom_37 = [[8.3, .79]];

// Vst signal intensity outliers: [Mbp, value]
const vst_1 = [[22.9, .375], [27.4, .54], [40, .355]];
const vst_3 = [[12.3, .4]];
const vst_4p = [[10.5, .59]];
const vst_4q1 = [[9.7, .51], [21.5, .57], [34.2, .375], [63.6, .33], [64, .73]];
const vst_4q2 = [[21.7, .405], [28.6, .24]];
const vst_5 = [[31.4, .255]];
const vst_6_1 = [[16.3, .48]];
const vst_6_2 = [[0.2, .27]];
const vst_7 = [[7.5, .3], [30.2, .47]];
const vst_8 = [[0, .32], [9.9, .33], [27.6, .745], [33.6, .31], [38.3, .32], [45.1, .39], [52, .24]];
const vst_10 = [[4.8, .3]];
const vst_11 = [[15.3, .255], [36.4, .805], [37.2, .34], [40.9, .43]];
const vst_13 = [[39.4, .28], [45.7, .49], [50.5, .435]];
const vst_14 = [[12.7, .72], [11.4, .33]];
const vst_15 = [[7, .635]];
const vst_16 = [[0, .51], [31.4, .25], [40, .45], [39.8, .37]];
const vst_17 = [[32.9, .51]];
const vst_18 = [[9.5, .44], [11.8, .3], [60.5, .32]];
const vst_19 = [[7.5, .35], [23.1, .37], [27.7, .31], [29.8, .39]];
const vst_20 = [[1, .32], [9.1, .57], [59.1, .42], [58.9, .29], [70.4, .33]];
const vst_22 = [[4.8, .33]];
const vst_23 = [[17.8, .46], [24.8, .25]];
const vst_24 = [[9.2, .28]];
const vst_25 = [[19.6, .29], [25.1, .4]];
const vst_26 = [[24.1, .475]];
const vst_27 = [[0.2, .39]];
const vst_28 = [[2, .37], [2.8, .27], [20.2, .39]];
const vst_30 = [[6.8, .435]];
const vst_31 = [[10, .25]];
const vst_32 = [[23, .68], [10.2, .29]];
const vst_33 = [[6.6, .36], [9.5, .43], [17, .465], [33.8, .39]];
const vst_35 = [[8.3, .25]];
const vst_36 = [[33.6, .72], [12.5, .24]];
const vst_37 = [[1.2, .34], [18.8, .4]];

const none: number[][] = [];

// one entry per facet, same order as chromNames
const panels = [
  { fst: fst_1, wgs: wgs_1, axiom: axiom_1, vst: vst_1 },
  { fst: fst_2, wgs: wgs_2, axiom: axiom_2, vst: none },
  { fst: fst_3, wgs: wgs_3, axiom: axiom_3, vst: vst_3 },
  { fst: fst_4p, wgs: wgs_4p, axiom: none, vst: vst_4p },
  { fst: fst_4q1, wgs: wgs_4q1, axiom: axiom_4q1, vst: vst_4q1 },
  { fst: fst_4q2, wgs: wgs_4q2, axiom: axiom_4q2, vst: vst_4q2 },
  { fst: fst_5, wgs: wgs_5, axiom: axiom_5, vst: vst_5 },
  { fst: fst_6_1, wgs: wgs_6_1, axiom: axiom_6_1, vst: vst_6_1 },
  { fst: fst_6_2, wgs: wgs_6_2, axiom: axiom_6_2, vst: vst_6_2 },
  { fst: fst_7, wgs: wgs_7, axiom: axiom_7, vst: vst_7 },
  { fst: fst_8, wgs: wgs_8, axiom: axiom_8, vst: vst_8 },
  { fst: fst_9, wgs: wgs_9, axiom: none, vst: none },
  { fst: fst_10, wgs: wgs_10, axiom: none, vst: vst_10 },
  { fst: fst_11, wgs: wgs_11, axiom: axiom_11, vst: vst_11 },
  { fst: fst_12, wgs: wgs_12, axiom: axiom_12, vst: none },
  { fst: fst_13, wgs: wgs_13, axiom: axiom_13, vst: vst_13 },
  { fst: fst_14, wgs: wgs_14, axiom: axiom_14, vst: vst_14 },
  { fst: fst_15, wgs: wgs_15, axiom: axiom_15, vst: vst_15 },
  { fst: fst_16, wgs: wgs_16, axiom: axiom_16, vst: vst_16 },
  { fst: fst_17, wgs: wgs_17, axiom: none, vst: vst_17 },
  { fst: fst_18, wgs: wgs_18, axiom: axiom_18, vst: vst_18 },
  { fst: fst_19, wgs: wgs_19, axiom: axiom_19, vst: vst_19 },
  { fst: fst_20, wgs: wgs_20, axiom: axiom_20, vst: vst_20 },
  { fst: fst_21, wgs: wgs_21, axiom: none, vst: none },
  { fst: fst_22, wgs: wgs_22, axiom: none, vst: vst_22 },
  { fst: fst_23, wgs: wgs_23, axiom: axiom_23, vst: vst_23 },
  { fst: fst_24, wgs: wgs_24, axiom: axiom_24, vst: vst_24 },
  { fst: fst_25, wgs: wgs_25, axiom: axiom_25, vst: vst_25 },
  { fst: fst_26, wgs: wgs_26, axiom: axiom_26, vst: vst_26 },
  { fst: fst_27, wgs: wgs_27, axiom: none, vst: vst_27 },
  { fst: fst_28, wgs: wgs_28, axiom: axiom_28, vst: vst_28 },
  { fst: fst_30, wgs: wgs_30, axiom: axiom_30, vst: vst_30 },
  { fst: fst_31, wgs: wgs_31, axiom: none, vst: vst_31 },
  { fst: fst_32, wgs: wgs_32, axiom: axiom_32, vst: vst_32 },
  { fst: fst_33, wgs: wgs_33, axiom: axiom_33, vst: vst_33 },
  { fst: fst_34, wgs: wgs_34, axiom: none, vst: none },
  { fst: fst_35, wgs: wgs_35, axiom: axiom_35, vst: vst_35 },
  { fst: fst_36, wgs: wgs_36, axiom: axiom_36, vst: vst_36 },
  { fst: fst_37, wgs: wgs_37, axiom: axiom_37, vst: vst_37 },
];

const FONT = "'Liberation Sans', Arial, Helvetica, sans-serif";
const BLUE = '#6b84cf';
const RED = '#ff0000';
const ORANGE = '#df8f00';
const GREY = '#999999';

const App: React.FC = () => {
  const svgRef = useRef<SVGSVGElement | null>(null);

  useEffect(() => {
    const svg = d3.select(svgRef.current);
    svg.selectAll('*').remove();

    const width = 2259;
    const height = 1653;
    const panelW = 294;
    const colPitch = 309.5;
    const left = 79;
    const rowPitch = 248;
    const top = 82; // pixel row of value 1.00 in the first row
    const titleMid = [33, 287, 543, 782, 1034, 1282];
    const titleShift = [-10, -6, -5, -4, 0, 0, -2];

    svg.attr('width', width).attr('height', height).style('background', '#fff');

    panels.forEach((p, i) => {
      const r = Math.floor(i / 7);
      const c = i % 7;
      const x0 = left + c * colPitch;
      const y1 = top + r * rowPitch;
      const len = chromLengths[i];

      const x = d3.scaleLinear().domain([-0.05 * len, 1.05 * len]).range([x0, x0 + panelW]);
      const y = d3.scaleLinear().domain([-0.085, 1.052]).range([y1 + 141, y1 - 6.8]);

      const g = svg.append('g');

      // title
      g.append('text')
        .attr('x', x0 + panelW / 2 + titleShift[c])
        .attr('y', titleMid[r] + 11)
        .attr('text-anchor', 'middle')
        .style('font-family', FONT)
        .style('font-weight', 'bold')
        .style('font-size', '32px')
        .style('fill', '#1a1a1a')
        .text(chromNames[i]);

      // fst line
      const pts = p.fst.map((v, k) => [len * k / (p.fst.length - 1), v]);
      g.append('path')
        .datum(pts)
        .attr('d', d3.line<number[]>().x(d => x(d[0])).y(d => y(d[1])))
        .attr('fill', 'none')
        .attr('stroke', GREY)
        .attr('stroke-width', 3.8)
        .attr('stroke-linejoin', 'round');

      const dots = (data: number[][], rad: number, col: string) => {
        g.append('g')
          .selectAll('circle')
          .data(data)
          .enter()
          .append('circle')
          .attr('cx', d => x(d[0]))
          .attr('cy', d => y(d[1]))
          .attr('r', rad)
          .attr('fill', col);
      };
      dots(p.wgs, 6, BLUE);
      dots(p.axiom, 7.5, RED);
      dots(p.vst, 7.5, ORANGE);

      // x axis
      const xa = g.append('g')
        .attr('transform', `translate(0,${y1 + 141})`)
        .call(d3.axisBottom(x)
          .tickValues(xTickLabels[i])
          .tickSize(7)
          .tickSizeOuter(0)
          .tickPadding(11)
          .tickFormat(d => String(d)));
      xa.select('.domain').attr('stroke', '#000').attr('stroke-width', 2.8);
      xa.selectAll('.tick line').attr('stroke', '#333').attr('stroke-width', 2);
      xa.selectAll('.tick text')
        .style('font-family', FONT)
        .style('font-weight', 'bold')
        .style('font-size', '22px')
        .style('fill', '#4d4d4d');

      // y axis only on the first column
      if (c === 0) {
        const ya = g.append('g')
          .attr('transform', `translate(${x0},0)`)
          .call(d3.axisLeft(y)
            .tickValues(yTickLabels)
            .tickSize(6)
            .tickSizeOuter(0)
            .tickPadding(6)
            .tickFormat(d3.format('.2f')));
        ya.select('.domain').attr('stroke', '#000').attr('stroke-width', 2.8);
        ya.selectAll('.tick line').attr('stroke', '#333').attr('stroke-width', 2);
        ya.selectAll('.tick text')
          .style('font-family', FONT)
          .style('font-weight', 'bold')
          .style('font-size', '23px')
          .style('fill', '#4d4d4d');
      }
    });

    // x axis title
    svg.append('text')
      .attr('x', 1101)
      .attr('y', 1628)
      .attr('text-anchor', 'middle')
      .style('font-family', FONT)
      .style('font-weight', 'bold')
      .style('font-size', '90px')
      .style('fill', '#000')
      .text('Mbp');

    // legend
    const lg = svg.append('g');
    lg.append('rect')
      .attr('x', 1380).attr('y', 1287)
      .attr('width', 865).attr('height', 248)
      .attr('fill', '#fff')
      .attr('stroke', '#000')
      .attr('stroke-width', 2.2);

    const legText = (tx: number, ty: number, s: string) =>
      lg.append('text')
        .attr('x', tx).attr('y', ty)
        .style('font-family', FONT)
        .style('font-weight', 'bold')
        .style('font-size', '47px')
        .style('fill', '#000')
        .text(s);

    lg.append('circle').attr('cx', 1443).attr('cy', 1333).attr('r', 17).attr('fill', BLUE);
    legText(1487, 1340, 'Whole genome');
    legText(1487, 1397, 'outlier SNP');

    lg.append('circle').attr('cx', 1872).attr('cy', 1333).attr('r', 17).attr('fill', RED);
    legText(1912, 1340, 'Axiom array');
    legText(1912, 1397, 'outlier SNP');

    lg.append('circle').attr('cx', 1443).attr('cy', 1433).attr('r', 17).attr('fill', ORANGE);
    const vt = lg.append('text')
      .attr('x', 1487).attr('y', 1454)
      .style('font-family', FONT)
      .style('font-weight', 'bold')
      .style('font-size', '47px')
      .style('fill', '#000');
    vt.append('tspan').style('font-style', 'italic').text('V');
    vt.append('tspan').attr('dy', 10).style('font-size', '34px').text('ST');
    vt.append('tspan').attr('dy', -10).text(' - Axiom array');
    legText(1487, 1511, 'signal intensity outlier');
  }, []);

  return <svg ref={svgRef} style={{ position: 'absolute', left: 0, top: 0 }}></svg>;
};

export default App;
